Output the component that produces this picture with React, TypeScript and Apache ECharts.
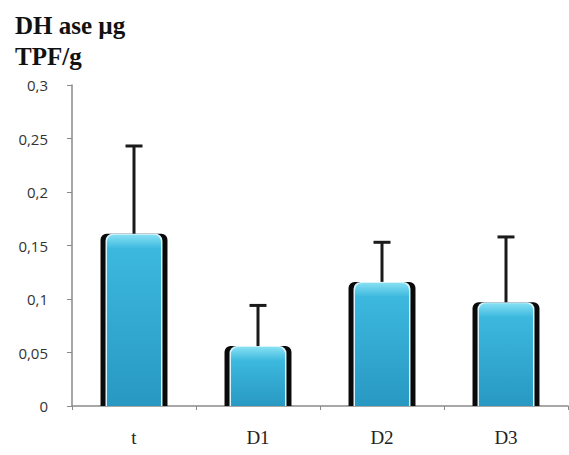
import React, { useEffect, useRef } from "react";
import * as echarts from "echarts";

const categories = ["t", "D1", "D2", "D3"];
const means = [0.161, 0.056, 0.116, 0.097];
const errors = [0.082, 0.038, 0.037, 0.061];
const yTicks = { min: 0, max: 0.3, interval: 0.05 };

export default function App() {
  const ref = useRef<HTMLDivElement>(null);
  useEffect(() => {
    if (!ref.current) return;
    const chart = echarts.init(ref.current, null, { renderer: "svg" });
    const data = categories.map((_, i) => [i, means[i], errors[i]]);
    chart.setOption({
      animation: false,
      backgroundColor: "#ffffff",
      title: {
        text: "DH ase µg\nTPF/g",
        left: 10,
        top: 5,
        textStyle: {
          fontFamily: "Liberation Serif",
          fontWeight: "bold",
          fontSize: 25,
          lineHeight: 31,
          color: "#111",
        },
      },
      grid: { left: 72, right: 1, top: 85, bottom: 49 },
      xAxis: {
        type: "category",
        data: categories,
        boundaryGap: true,
        axisLine: { lineStyle: { color: "#8a8a8a", width: 1.5 } },
        axisTick: { show: true, length: 4, lineStyle: { color: "#8a8a8a" } },
        axisLabel: {
          margin: 22,
          fontFamily: "Liberation Serif",
          fontSize: 19,
          color: "#222",
        },
      },
      yAxis: {
        type: "value",
        min: yTicks.min,
        max: yTicks.max,
        interval: yTicks.interval,
        splitLine: { show: false },
        axisLine: { show: true, lineStyle: { color: "#8a8a8a", width: 1.5 } },
        axisTick: { show: true, length: 5, lineStyle: { color: "#8a8a8a" } },
        axisLabel: {
          margin: 24,
          fontFamily: "Open Sans",
          fontSize: 15,
          color: "#333",
          formatter: (v: number) =>
            parseFloat(v.toFixed(2)).toString().replace(".", ","),
        },
      },
      series: [
        {
          type: "custom",
          encode: { x: 0, y: 1 },
          data,
          renderItem: (params: any, api: any) => {
            const idx = api.value(0);
            const val = api.value(1);
            const err = api.value(2);
            const top = api.coord([idx, val]);
            const base = api.coord([idx, 0]);
            const errTop = api.coord([idx, val + err]);
            const band = api.size([1, 0])[0];
            const w = band * 0.54;
            const x0 = top[0] - w / 2;
            const h = base[1] - top[1];
            const edge = 5;
            const capW = 17;
            return {
              type: "group",
              children: [
                {
                  type: "rect",
                  shape: { x: x0, y: top[1], width: w, height: h, r: [6, 6, 0, 0] },
                  style: { fill: "#0a0a0a" },
                },
                {
                  type: "rect",
                  shape: {
                    x: x0 + edge,
                    y: top[1],
                    width: w - 2 * edge,
                    height: h,
                    r: [7, 7, 0, 0],
                  },
                  style: { fill: "#d8f3fb" },
                },
                {
                  type: "rect",
                  shape: {
                    x: x0 + edge + 1.5,
                    y: top[1] + 1,
                    width: w - 2 * edge - 3,
                    height: h - 1,
                    r: [7, 7, 0, 0],
                  },
                  style: {
                    fill: new echarts.graphic.LinearGradient(0, 0, 0, 1, [
                      { offset: 0, color: "#86e0f3" },
                      { offset: Math.min(0.9, 14 / Math.max(h, 1)), color: "#3cb8de" },
                      { offset: 1, color: "#2898c2" },
                    ]),
                  },
                },
                {
                  type: "line",
                  shape: { x1: top[0], y1: top[1], x2: errTop[0], y2: errTop[1] },
                  style: { stroke: "#1a1a1a", lineWidth: 3 },
                },
                {
                  type: "line",
                  shape: {
                    x1: top[0] - capW / 2,
                    y1: errTop[1],
                    x2: top[0] + capW / 2,
                    y2: errTop[1],
                  },
                  style: { stroke: "#1a1a1a", lineWidth: 3 },
                },
              ],
            };
          },
        },
      ],
    });
    return () => chart.dispose();
  }, []);
  return (
    <div
      ref={ref}
      style={{ position: "fixed", left: 0, top: 0, width: 569, height: 455 }}
    />
  );
}
